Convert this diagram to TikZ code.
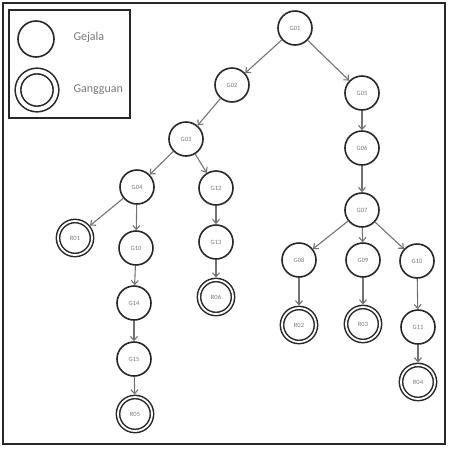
\documentclass[tikz,border=0pt]{standalone}
\usepackage{fontspec}
\setmainfont{Carlito}
\usetikzlibrary{arrows.meta}
\definecolor{edgegray}{RGB}{115,115,115}
\definecolor{labgray}{RGB}{120,120,120}
\definecolor{ringc}{RGB}{40,40,40}
\tikzset{
  gej/.style={circle, draw=ringc, line width=1.6pt, minimum size=34pt, inner sep=0pt,
    font=\fontsize{6.5}{7}\selectfont, text=labgray},
  gang/.style={circle, draw=ringc, line width=1.5pt, double=white, double distance=1.8pt,
    minimum size=34pt, inner sep=0pt, outer sep=2.5pt,
    font=\fontsize{6.5}{7}\selectfont, text=labgray},
  conn/.style={draw=edgegray, line width=1.1pt, -{Straight Barb[length=4pt,width=7pt]}},
  legtext/.style={font=\fontsize{12}{14}\selectfont, text=labgray, anchor=west}
}
\begin{document}
\begin{tikzpicture}[x=1pt,y=-1pt]
\useasboundingbox (0,0) rectangle (451,451);
\draw[line width=2pt, ringc] (2.5,2.5) rectangle (445,444);
% legend
\draw[line width=2pt, ringc] (9,10) rectangle (130,118);
\node[circle, draw=ringc, line width=1.6pt, minimum size=36pt, inner sep=0pt] (lg1) at (36,39) {};
\node[legtext] (lt1) at (70,37) {Gejala};
\node[circle, draw=ringc, line width=1.6pt, double=white, double distance=4pt, minimum size=38pt, inner sep=0pt] (lg2) at (37,90) {};
\node[legtext] (lt2) at (70,90) {Gangguan};
% nodes
\node[gej] (g01) at (295,28) {G01};
\node[gej] (g02) at (232,85) {G02};
\node[gej] (g05) at (362,93) {G05};
\node[gej] (g03) at (186,139) {G03};
\node[gej] (g06) at (362,148) {G06};
\node[gej] (g04) at (137,187) {G04};
\node[gej] (g12) at (216,188) {G12};
\node[gang] (r01) at (75,238) {R01};
\node[gej] (g10a) at (136,248) {G10};
\node[gej] (g13) at (216,242) {G13};
\node[gej] (g14) at (134,303) {G14};
\node[gang] (r06) at (216,297) {R06};
\node[gej] (g15) at (134,359) {G15};
\node[gang] (r05) at (135,414) {R05};
\node[gej] (g07) at (362,210) {G07};
\node[gej] (g08) at (299,260) {G08};
\node[gej] (g09) at (363,260) {G09};
\node[gej] (g10) at (417,261) {G10};
\node[gang] (r02) at (299,325) {R02};
\node[gang] (r03) at (363,324) {R03};
\node[gej] (g11) at (418,327) {G11};
\node[gang] (r04) at (418,382) {R04};
% connectors
\foreach \a/\b in {g01/g02,g01/g05,g02/g03,g05/g06,g06/g07,g03/g04,g03/g12,g04/r01,g04/g10a,
  g10a/g14,g14/g15,g15/r05,g12/g13,g13/r06,g07/g08,g07/g09,g07/g10,g08/r02,g09/r03,g10/g11,g11/r04}
  \draw[conn] (\a) -- (\b);
\end{tikzpicture}
\end{document}
